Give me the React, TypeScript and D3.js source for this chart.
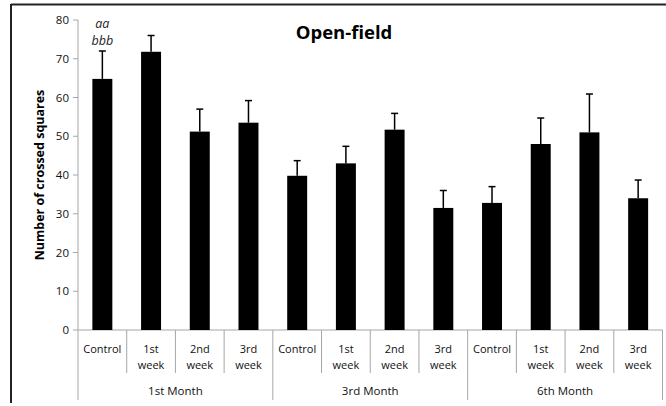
import React from "react";
import * as d3 from "d3";

const categories = ["Control", "1st week", "2nd week", "3rd week", "Control", "1st week", "2nd week", "3rd week", "Control", "1st week", "2nd week", "3rd week"];
const groups = ["1st Month", "3rd Month", "6th Month"];
const means = [64.8, 71.8, 51.2, 53.5, 39.8, 43.0, 51.7, 31.5, 32.8, 48.0, 51.0, 34.0];
const errTops = [72.0, 76.0, 57.0, 59.2, 43.7, 47.4, 55.9, 36.0, 37.0, 54.7, 60.9, 38.7];
const yTicks = [0, 10, 20, 30, 40, 50, 60, 70, 80];

const W = 666, H = 406;
const left = 78, right = 662.5, top = 20, bottom = 330;
const font = "'Open Sans', 'Liberation Sans', sans-serif";

export default function App() {
  const x = d3.scaleBand<number>().domain(categories.map((_, i) => i)).range([left, right]).padding(0);
  const y = d3.scaleLinear().domain([0, 80]).range([bottom, top]);
  const step = x.step();
  const barW = step * 0.41;
  const axisColor = "#a6a6a6";
  return (
    <svg width={W} height={H} style={{ position: "absolute", left: 0, top: 0, background: "#fff" }}>
      <rect x={0} y={0} width={W} height={H} fill="#fff" />
      {/* outer frame */}
      <line x1={11} y1={4.5} x2={W} y2={4.5} stroke="#222" strokeWidth={2} />
      <line x1={11} y1={4} x2={11} y2={403} stroke="#222" strokeWidth={2} />
      {/* title */}
      <text x={344} y={39} textAnchor="middle" fontFamily={font} fontWeight="bold" fontSize={18.5} fill="#000">Open-field</text>
      {/* y axis */}
      <line x1={left} y1={y(80)} x2={left} y2={bottom} stroke={axisColor} strokeWidth={1} />
      {yTicks.map(t => (
        <g key={t}>
          <line x1={left - 5} x2={left} y1={y(t)} y2={y(t)} stroke={axisColor} />
          <text x={left - 9} y={y(t)} dy="0.35em" textAnchor="end" fontFamily={font} fontSize={11.5} fill="#111">{t}</text>
        </g>
      ))}
      <text transform={`translate(44, 175) rotate(-90)`} textAnchor="middle" fontFamily={font} fontWeight="bold" fontSize={12.5} fill="#000">Number of crossed squares</text>
      {/* x axis */}
      <line x1={left} x2={right} y1={bottom} y2={bottom} stroke={axisColor} />
      {categories.map((c, i) => {
        const x0 = x(i)!;
        const isGroupEdge = i % 4 === 0;
        return (
          <line key={"s" + i} x1={x0} x2={x0} y1={bottom} y2={isGroupEdge ? 400 : 373} stroke={axisColor} />
        );
      })}
      <line x1={right} x2={right} y1={bottom} y2={400} stroke={axisColor} />
      {categories.map((c, i) => {
        const cx = x(i)! + step / 2;
        const parts = c.split(" ");
        return (
          <text key={"l" + i} x={cx} textAnchor="middle" fontFamily={font} fontSize={11} fill="#111">
            {parts.map((p, k) => (
              <tspan key={k} x={cx} y={353 + k * 16}>{p}</tspan>
            ))}
          </text>
        );
      })}
      {groups.map((g, gi) => {
        const cx = (x(gi * 4)! + x(gi * 4 + 3)! + step) / 2;
        return <text key={g} x={cx} y={395} textAnchor="middle" fontFamily={font} fontSize={11.5} fill="#111">{g}</text>;
      })}
      {/* bars */}
      {means.map((m, i) => {
        const cx = x(i)! + step / 2;
        return (
          <g key={"b" + i}>
            <line x1={cx} x2={cx} y1={y(m)} y2={y(errTops[i])} stroke="#000" strokeWidth={1.5} />
            <line x1={cx - 3.5} x2={cx + 3.5} y1={y(errTops[i])} y2={y(errTops[i])} stroke="#000" strokeWidth={1.5} />
            <rect x={cx - barW / 2} y={y(m)} width={barW} height={bottom - y(m)} fill="#000" />
          </g>
        );
      })}
      {/* significance letters */}
      <text x={x(0)! + step / 2} y={28} textAnchor="middle" fontFamily={font} fontStyle="italic" fontSize={12.5} fill="#222">aa</text>
      <text x={x(0)! + step / 2} y={45} textAnchor="middle" fontFamily={font} fontStyle="italic" fontSize={12.5} fill="#222">bbb</text>
    </svg>
  );
}
